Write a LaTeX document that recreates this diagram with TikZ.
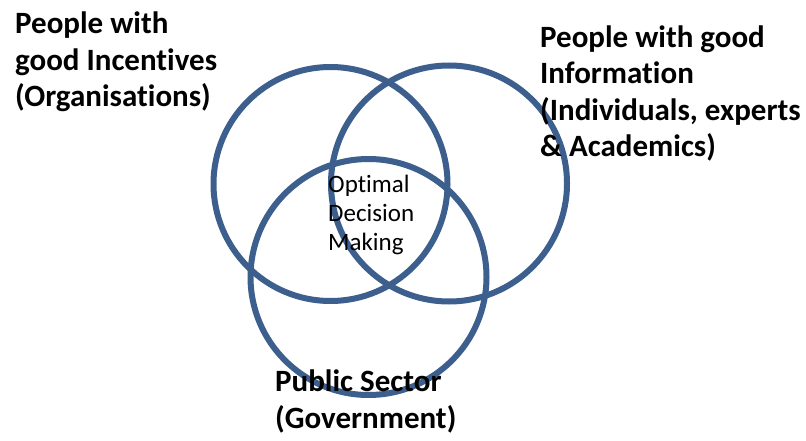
\documentclass[tikz,border=0pt]{standalone}
\usepackage{fontspec}
\setmainfont[Ligatures=NoCommon]{Carlito}
\definecolor{ringblue}{RGB}{60,95,142}
\begin{document}
\begin{tikzpicture}[x=1pt,y=-1pt,
  ring/.style={draw=ringblue,line width=6pt},
  biglabel/.style={anchor=base west,inner sep=0pt,align=left,font=\fontsize{31}{36.5}\selectfont\bfseries},
  midlabel/.style={anchor=base west,inner sep=0pt,align=left,font=\fontsize{25}{29}\selectfont}]
\useasboundingbox (0,0) rectangle (806,441);
\fill[white] (0,0) rectangle (806,441);
\draw[ring] (330.5,184) circle[radius=117];
\draw[ring] (449,183.5) circle[radius=118];
\draw[ring] (368.5,277) circle[radius=118];
\node[biglabel] (inc) at (15,107) {People with\\good Incentives\\(Organisations)};
\node[biglabel] (info) at (540,157) {People with good\\Information\\(Individuals, experts\\\& Academics)};
\node[biglabel] (pub) at (275,428) {Public Sector\\(Government)};
\node[midlabel] (opt) at (328,250) {Optimal\\Decision\\Making};
\end{tikzpicture}
\end{document}
